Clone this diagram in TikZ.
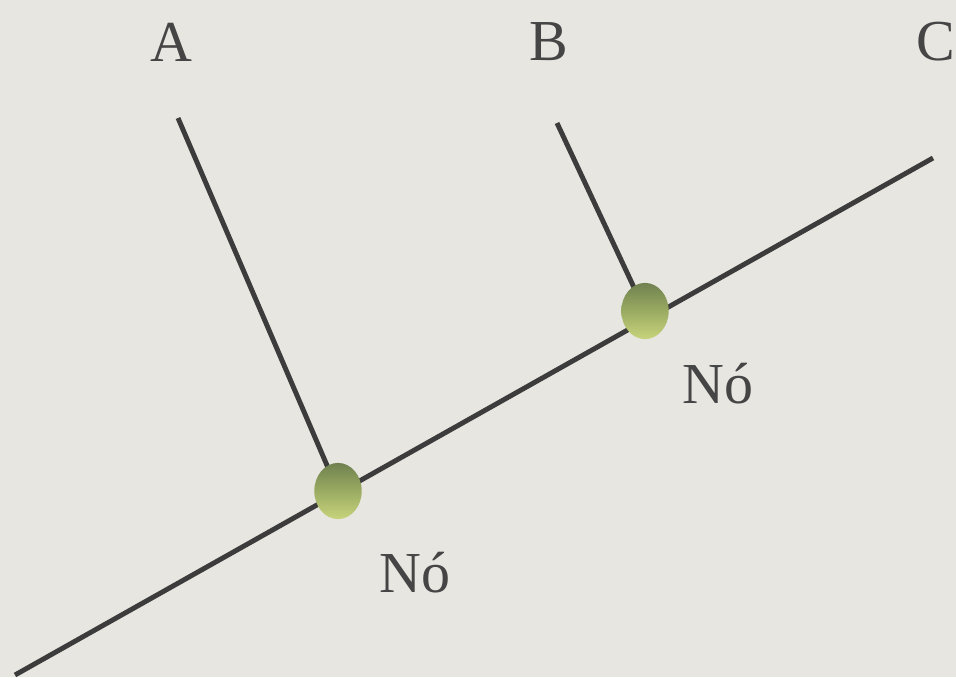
\documentclass[tikz,border=0pt]{standalone}
\usepackage{fontspec}
\setmainfont{Liberation Serif}
\usepackage{tikz}
\usetikzlibrary{backgrounds, shapes.geometric}

\definecolor{bgpaper}{HTML}{E8E6E1}
\definecolor{inkline}{HTML}{3C3C3C}
\definecolor{inktext}{HTML}{454545}
\definecolor{olivetop}{HTML}{708150}
\definecolor{olivemid}{HTML}{9AAB62}
\definecolor{olivebot}{HTML}{C8D47C}

\begin{document}
\begin{tikzpicture}[
  x=0.02cm, y=-0.02cm,
  lbl/.style={text=inktext, font=\fontsize{33}{38}\selectfont, inner sep=0pt},
  knot/.style={ellipse, minimum width=27pt, minimum height=32pt, inner sep=0pt,
    top color=olivetop, bottom color=olivebot, middle color=olivemid, draw=none},
  branch/.style={draw=inkline, line width=2.8pt}
]
\useasboundingbox (0,0) rectangle (956,677);

% --- taxa labels ---
\node[lbl] (A) at (171,42) {A};
\node[lbl] (B) at (549,42) {B};
\node[lbl] (C) at (936,42) {C};

% --- leaf tips and root ---
\coordinate (tipA) at (178,118);
\coordinate (tipB) at (557,123);
\coordinate (tipC) at (933,158);
\coordinate (root) at (15,675);

% --- internal nodes ---
\node[knot] (n1) at (338,491) {};
\node[knot] (n2) at (645,311) {};
\node[lbl] (l1) at (415,573) {Nó};
\node[lbl] (l2) at (718,384) {Nó};

% --- background and tree ---
\begin{scope}[on background layer]
  \fill[bgpaper] (0,0) rectangle (956,677);
  \draw[branch] (root) -- (tipC);
  \draw[branch] (tipA) -- (n1.center);
  \draw[branch] (tipB) -- (n2.center);
\end{scope}
\end{tikzpicture}
\end{document}
